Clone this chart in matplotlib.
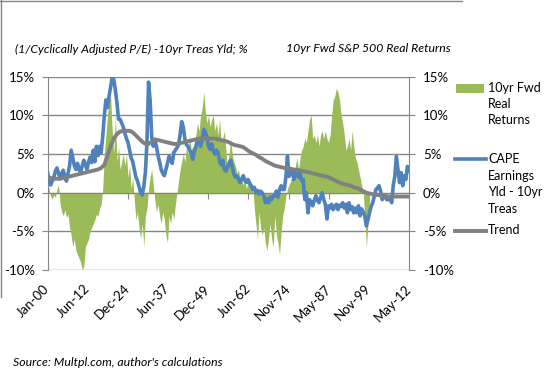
import numpy as np
import matplotlib
matplotlib.use("Agg")
import matplotlib.pyplot as plt
from matplotlib.lines import Line2D
from matplotlib.patches import Rectangle

plt.rcParams["font.family"] = ["Lato", "DejaVu Sans"]

# category axis: monthly points, labels every 150 months
N_MONTHS = 1350
TICK_MONTHS = [0, 150, 300, 450, 600, 750, 900, 1050, 1200, 1350]
TICK_LABELS = ["Jan-00", "Jun-12", "Dec-24", "Jun-37", "Dec-49",
               "Jun-62", "Nov-74", "May-87", "Nov-99", "May-12"]
Y_TICKS = [-10, -5, 0, 5, 10, 15]
Y_LABELS = ["-10%", "-5%", "0%", "5%", "10%", "15%"]

# CAPE earnings yield minus 10yr treasury, %, read twice a year
CAPE_YLD_GAP = [
    2.6, 1.8, 1.0, 1.5, 2.0, 2.8, 3.2, 2.5, 1.8, 2.5,
    2.9, 2.0, 1.5, 2.5, 3.5, 5.5, 4.5, 3.5, 3.0, 3.8,
    3.0, 2.6, 3.5, 4.2, 3.6, 3.0, 4.0, 4.6, 3.9, 5.5,
    4.0, 6.0, 4.8, 6.0, 5.2, 7.3, 10.0, 12.0, 11.0, 12.5,
    13.7, 15.0, 14.6, 13.3, 11.6, 9.5, 9.5, 9.0, 8.5, 7.7,
    7.0, 6.5, 5.5, 4.5, 4.0, 3.0, 2.0, 1.5, 0.8, 0.0,
    -0.3, 0.8, 2.6, 6.5, 14.3, 12.0, 7.3, 6.0, 6.8, 6.0,
    4.8, 4.0, 3.0, 2.5, 2.2, 3.0, 3.8, 4.7, 4.2, 3.8,
    5.2, 5.5, 5.8, 6.2, 7.5, 9.2, 8.5, 7.0, 6.2, 6.0,
    5.5, 5.2, 4.3, 5.3, 6.0, 6.8, 6.4, 6.0, 6.8, 8.2,
    7.8, 7.2, 6.0, 5.6, 6.3, 5.5, 5.0, 5.5, 5.2, 4.0,
    3.6, 4.2, 3.0, 2.8, 3.2, 3.8, 4.2, 3.4, 2.4, 2.0,
    2.2, 1.8, 1.3, 1.8, 2.2, 1.6, 1.3, 1.7, 1.3, 0.9,
    0.4, 0.7, 0.0, 0.3, -0.2, 0.2, 0.0, -0.4, -1.3, -0.8,
    -1.3, -0.6, -0.9, -0.4, -0.4, 0.2, -0.6, 0.4, 0.9, 0.4,
    0.4, 2.0, 4.7, 2.1, 2.6, 3.0, 1.7, 2.5, 3.0, 2.0,
    2.6, 1.5, 1.7, -0.9, 0.0, -2.6, -0.9, -1.2, -1.7, -1.0,
    -0.4, -1.0, -1.3, -0.6, 0.0, -0.9, -1.5, -3.4, -1.7, -2.0,
    -1.5, -2.2, -1.8, -1.5, -2.2, -1.6, -1.8, -1.3, -2.0, -1.5,
    -2.6, -1.3, -2.2, -1.8, -2.6, -2.0, -2.6, -1.7, -3.0, -2.1,
    -2.5, -3.0, -4.3, -3.5, -2.6, -1.8, -1.3, -0.5, 0.4, 0.6,
    0.9, 0.2, -0.9, -0.6, -0.4, -0.9, -0.9, -0.5, -1.3, 0.9,
    2.1, 4.7, 3.0, 1.3, 2.6, 0.9, 2.2, 1.7, 3.4, 2.8,
]

# 10yr forward S&P 500 real returns, %, same half-year steps (ends earlier)
FWD_REAL_RET = [
    1.7, 0.5, -0.5, -0.8, -0.3, -0.6, 0.5, 1.0, -1.5, -2.5,
    -3.0, -2.2, -3.2, -2.8, -4.5, -5.5, -7.0, -6.0, -7.5, -8.0,
    -8.5, -9.0, -10.0, -9.5, -7.0, -6.5, -6.0, -5.0, -4.5, -4.0,
    -3.5, -2.8, -3.0, -2.0, -1.5, 0.5, 5.0, 7.5, 10.0, 12.0,
    12.5, 8.0, 5.0, 10.0, 4.0, 6.0, 3.0, 4.0, 5.0, 3.5,
    5.0, 2.0, 3.5, 0.5, 2.0, -1.0, -3.5, -2.5, -4.5, -6.0,
    -4.0, -7.0, -3.0, -2.0, 0.5, 2.0, 3.0, 1.0, -1.0, -2.5,
    -1.5, -3.0, -4.0, -2.5, -3.5, -5.5, -6.5, -3.0, -4.0, -2.5,
    -3.5, -1.5, 0.0, 1.5, 3.0, 4.0, 5.0, 4.0, 6.0, 5.0,
    7.5, 5.5, 6.0, 5.0, 7.5, 9.0, 8.0, 10.0, 11.0, 13.0,
    10.5, 9.0, 10.0, 8.5, 9.5, 10.0, 8.0, 9.0, 7.5, 9.5,
    6.5, 7.0, 8.0, 5.5, 3.0, 5.0, 7.0, 5.0, 4.0, 3.5,
    2.5, 3.0, 1.5, 2.0, 1.0, 1.5, 0.5, 1.5, 1.0, 0.5,
    0.8, -2.0, -4.0, -6.0, -2.5, -4.5, -5.5, -4.5, -6.5, -7.5,
    -6.0, -4.0, -6.0, -7.0, -3.0, -5.5, -6.5, -8.0, -5.0, -3.0,
    -2.0, -0.5, 0.5, 1.0, 1.5, 2.5, 1.5, 3.5, 4.5, 3.0,
    4.5, 5.5, 6.0, 7.0, 6.5, 8.0, 9.5, 10.0, 7.0, 7.5,
    6.5, 7.5, 6.0, 7.5, 8.0, 7.0, 8.0, 7.0, 6.5, 7.5,
    10.0, 12.0, 12.5, 13.5, 13.0, 12.0, 10.0, 9.0, 7.5, 5.5,
    6.0, 7.0, 5.5, 8.0, 6.0, 4.5, 4.0, 3.0, 2.0, 1.0,
    0.0, -3.0, -7.0, -4.0, -1.0,
]

# trend line, one reading per year
TREND = [
    2.0, 1.9, 1.8, 1.8, 1.8, 1.9, 2.0, 2.1, 2.2, 2.3,
    2.4, 2.5, 2.6, 2.7, 2.8, 2.9, 3.0, 3.2, 3.6, 4.8,
    6.0, 7.0, 7.6, 7.9, 8.0, 8.0, 8.0, 7.8, 7.4, 7.0,
    6.6, 6.3, 6.3, 6.6, 6.9, 6.8, 6.7, 6.6, 6.5, 6.4,
    6.3, 6.3, 6.4, 6.5, 6.6, 6.7, 6.8, 6.9, 7.0, 7.0,
    7.0, 7.0, 7.0, 7.0, 6.9, 6.8, 6.7, 6.6, 6.4, 6.2,
    6.1, 6.0, 5.9, 5.6, 5.3, 5.1, 4.9, 4.6, 4.4, 4.1,
    3.9, 3.7, 3.5, 3.4, 3.3, 3.2, 3.2, 3.1, 3.0, 2.9,
    2.9, 2.8, 2.7, 2.6, 2.5, 2.4, 2.3, 2.2, 2.1, 2.0,
    1.8, 1.6, 1.4, 1.2, 1.1, 1.0, 0.9, 0.7, 0.6, 0.4,
    0.2, 0.0, -0.1, -0.2, -0.3, -0.3, -0.4, -0.4, -0.5, -0.5,
    -0.5, -0.5, -0.5, -0.5, -0.5,
]

GREEN = "#9BBB59"
BLUE = "#4F81BD"
GRAY = "#808080"
GRID = "#868686"
FS = 9.5

fig = plt.figure(figsize=(5.44, 3.77), dpi=100)
ax = fig.add_axes([47.5 / 544, 1 - 270 / 377, (409 - 47.5) / 544, (270 - 76.7) / 377])

x_blue = np.linspace(0, N_MONTHS, len(CAPE_YLD_GAP))
x_green = x_blue[:len(FWD_REAL_RET)]
x_trend = x_blue[::2][:len(TREND)]

ax.fill_between(x_green, 0, FWD_REAL_RET, color=GREEN, lw=0, zorder=2)
ax.plot(x_blue, CAPE_YLD_GAP, color=BLUE, lw=2.6, zorder=3)
ax.plot(x_trend, TREND, color=GRAY, lw=2.8, zorder=4)

ax.set_xlim(0, N_MONTHS)
ax.set_ylim(-10, 15)
ax.set_yticks(Y_TICKS)
ax.set_yticklabels(Y_LABELS)
ax.yaxis.grid(True, color=GRID, lw=1.0)
ax.set_axisbelow(True)
ax.tick_params(axis="y", length=4, color=GRID, labelsize=FS, pad=5)

# horizontal axis crosses at 0, labels kept low
ax.spines["top"].set_visible(False)
ax.spines["right"].set_visible(False)
ax.spines["left"].set_color(GRID)
ax.spines["bottom"].set_position(("data", 0))
ax.spines["bottom"].set_color(GRID)
ax.set_xticks(TICK_MONTHS)
ax.tick_params(axis="x", length=4, color=GRID, labelbottom=False)

sec = ax.secondary_xaxis("bottom")
sec.set_xticks(TICK_MONTHS)
sec.set_xticklabels(TICK_LABELS, rotation=45, ha="right", va="center",
                    rotation_mode="anchor", fontsize=FS)
sec.tick_params(length=0, pad=12)
sec.spines["bottom"].set_visible(False)

twin = ax.twinx()
twin.set_ylim(-10, 15)
twin.set_yticks(Y_TICKS)
twin.set_yticklabels(Y_LABELS)
twin.tick_params(axis="y", length=4, color=GRID, labelsize=FS, pad=6)
for s in ["top", "bottom", "left"]:
    twin.spines[s].set_visible(False)
twin.spines["right"].set_color(GRID)

# titles over each axis
fig.text(15 / 544, 1 - 49 / 377, "(1/Cyclically Adjusted P/E) -10yr Treas Yld; %",
         fontsize=8.8, style="italic", va="center")
fig.text(286 / 544, 1 - 49 / 377, "10yr Fwd S&P 500 Real Returns",
         fontsize=8.8, style="italic", va="center")

# legend drawn by hand so keys sit beside the first text line
def fy(py):
    return 1 - py / 377

fig.add_artist(Rectangle((456 / 544, fy(92.5)), 28 / 544, 8.5 / 377,
                         transform=fig.transFigure, color=GREEN, lw=0))
fig.add_artist(Line2D([455 / 544, 486 / 544], [fy(159), fy(159)],
                      transform=fig.transFigure, color=BLUE, lw=2.6))
fig.add_artist(Line2D([455 / 544, 486 / 544], [fy(230.5), fy(230.5)],
                      transform=fig.transFigure, color=GRAY, lw=2.8))
leg_txt = [("10yr Fwd", 88), ("Real", 104), ("Returns", 120),
           ("CAPE", 159), ("Earnings", 176), ("Yld - 10yr", 192.5), ("Treas", 209),
           ("Trend", 230.5)]
for t, py in leg_txt:
    fig.text(488 / 544, fy(py), t, fontsize=9, va="center")

fig.text(13 / 544, fy(362), "Source: Multpl.com, author's calculations",
         fontsize=8.8, style="italic", va="center")

# chart frame (only top and left edges show)
fig.add_artist(Line2D([0, 462 / 544], [fy(0.5), fy(0.5)],
                      transform=fig.transFigure, color=GRID, lw=1.0))
fig.add_artist(Line2D([0.5 / 544, 0.5 / 544], [fy(0), fy(297)],
                      transform=fig.transFigure, color=GRID, lw=1.0))

fig.savefig("out.png", dpi=100)
